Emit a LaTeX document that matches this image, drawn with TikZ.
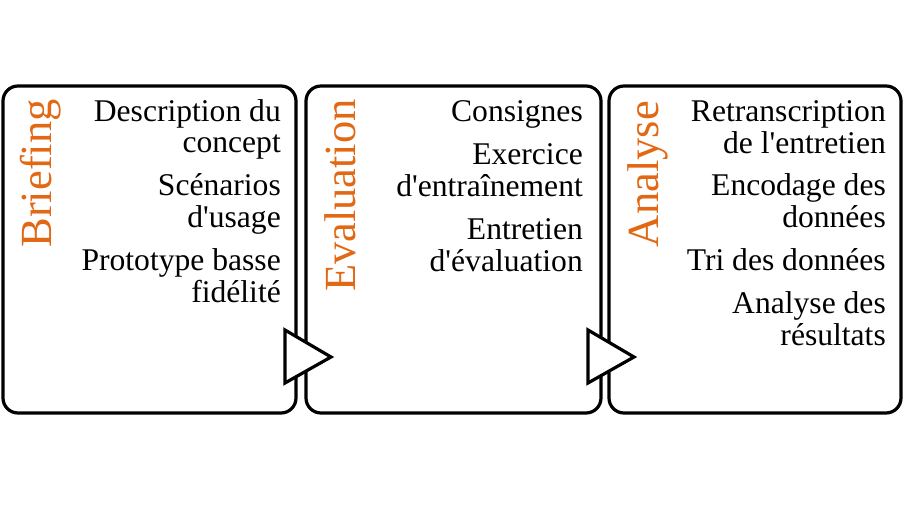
\documentclass[tikz,border=0pt]{standalone}
\usepackage{fontspec}
\setmainfont{Liberation Serif}
\definecolor{phase}{RGB}{226,104,20}
\newcommand{\sq}{\textquotesingle}
\begin{document}
\begin{tikzpicture}[x=1pt,y=-1pt,
  box/.style={draw=black,line width=3.2pt,rounded corners=15pt,fill=white},
  tri/.style={draw=black,line width=3.2pt,fill=white,line join=miter},
  phasetitle/.style={rotate=90,anchor=base east,inner sep=0pt,text=phase,font=\fontsize{44.5}{50}\selectfont},
  item/.style={anchor=base east,inner sep=0pt,font=\fontsize{31.6}{33}\selectfont}]
\useasboundingbox (0,0) rectangle (906,525);
\draw[box] (3,86) rectangle (296,413);
\draw[box] (306,86) rectangle (601,413);
\draw[box] (609,86) rectangle (901,413);
\coordinate (t1a) at (285,330); \coordinate (t1b) at (285,383); \coordinate (t1c) at (331,357);
\coordinate (t2a) at (588,330); \coordinate (t2b) at (588,383); \coordinate (t2c) at (634,357);
\draw[tri] (t1a) -- (t1c) -- (t1b) -- cycle;
\draw[tri] (t2a) -- (t2c) -- (t2b) -- cycle;
\node[phasetitle] (p1) at (52,99) {Briefing};
\node[phasetitle] (p2) at (355,99) {Evaluation};
\node[phasetitle] (p3) at (658,101) {Analyse};
% box 1
\node[item] (a1) at (281,121) {Description du};
\node[item] (a2) at (281,152) {concept};
\node[item] (a3) at (281,195) {Scénarios};
\node[item] (a4) at (281,227) {d\sq usage};
\node[item] (a5) at (281,270) {Prototype basse};
\node[item] (a6) at (281,302) {fidélité};
% box 2
\node[item] (b1) at (583,121) {Consignes};
\node[item] (b2) at (583,164) {Exercice};
\node[item] (b3) at (583,196) {d\sq entraînement};
\node[item] (b4) at (583,239) {Entretien};
\node[item] (b5) at (583,271) {d\sq évaluation};
% box 3
\node[item] (c1) at (886,121) {Retranscription};
\node[item] (c2) at (886,153) {de l\sq entretien};
\node[item] (c3) at (886,195) {Encodage des};
\node[item] (c4) at (886,227) {données};
\node[item] (c5) at (886,270) {Tri des données};
\node[item] (c6) at (886,313) {Analyse des};
\node[item] (c7) at (886,345) {résultats};
\end{tikzpicture}
\end{document}
